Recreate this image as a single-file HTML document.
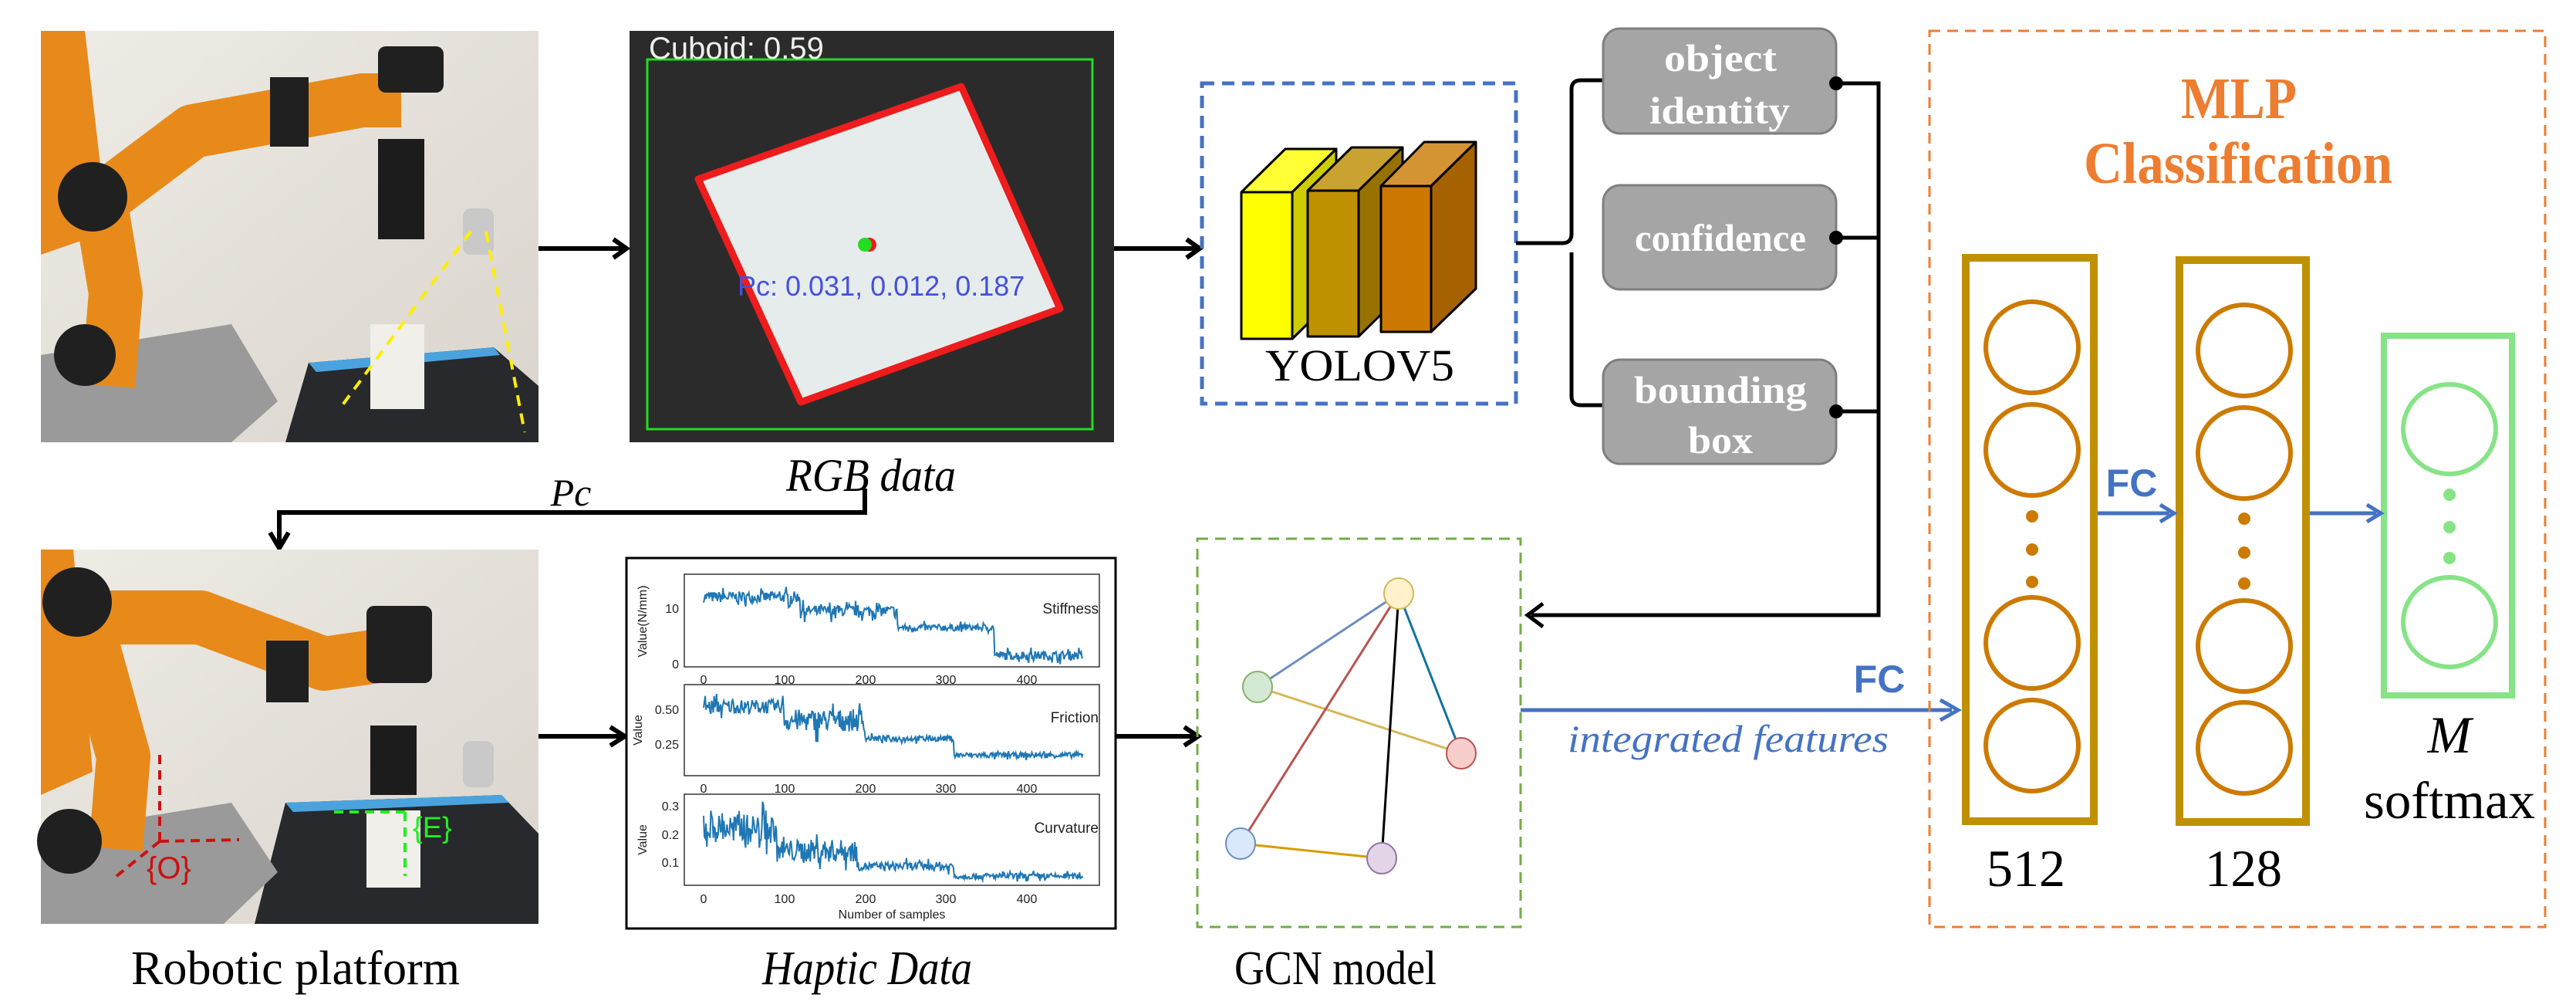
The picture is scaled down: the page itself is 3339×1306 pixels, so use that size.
<!DOCTYPE html>
<html><head><meta charset="utf-8"><style>
html,body{margin:0;padding:0;background:#fff}
svg{display:block}
.serif{font-family:"Liberation Serif",serif}
.sans{font-family:"Liberation Sans",sans-serif}
</style></head><body>
<svg id="s" width="3339" height="1306" viewBox="0 0 3339 1306" xmlns="http://www.w3.org/2000/svg">
<defs>
<linearGradient id="wall" x1="0" y1="0" x2="1" y2="1"><stop offset="0" stop-color="#efece6"/><stop offset="1" stop-color="#d9d4cc"/></linearGradient>
</defs>

<!-- Photo 1 -->
<g>
<rect x="53" y="40" width="645" height="533" fill="url(#wall)"/>
<polygon points="53,40 110,40 140,300 53,330" fill="#e8891c"/>
<polygon points="400,470 640,450 698,500 698,573 370,573" fill="#28292c"/>
<polygon points="400,470 640,450 648,460 410,482" fill="#4aa3df"/>
<polygon points="53,460 300,420 360,520 300,573 53,573" fill="#9a9a9a"/>
<rect x="480" y="420" width="70" height="110" fill="#f0efe9"/>
<path d="M140,500 L150,380 L130,260 L250,170 L470,130 L520,130" stroke="#e88a1a" stroke-width="70" fill="none" stroke-linejoin="round"/>
<circle cx="120" cy="255" r="45" fill="#202020"/>
<circle cx="110" cy="460" r="40" fill="#202020"/>
<rect x="490" y="60" width="85" height="60" rx="10" fill="#202020"/>
<rect x="490" y="180" width="60" height="130" fill="#1c1c1c"/>
<rect x="350" y="100" width="50" height="90" fill="#202020"/>
<rect x="600" y="270" width="40" height="60" rx="10" fill="#c9c9c9"/>
<path d="M610,300 L440,530 M630,300 L680,560" stroke="#ffee00" stroke-width="4" stroke-dasharray="14,10" fill="none"/>
</g>

<!-- RGB image -->
<g>
<rect x="816" y="40" width="628" height="533" fill="#2b2b2b"/>
<rect x="839" y="77" width="577" height="479" fill="none" stroke="#22dd22" stroke-width="3"/>
<polygon points="905,232 1246,112 1374,400 1038,521" fill="#e6ecec" stroke="#ee1c1c" stroke-width="9" stroke-linejoin="round"/>
<circle cx="1127" cy="317" r="9" fill="#ee1c1c"/>
<circle cx="1121" cy="317" r="9" fill="#22dd22"/>
<text x="841" y="76" class="sans" font-size="40" fill="#eee">Cuboid: 0.59</text>
<text x="956" y="383" class="sans" font-size="36" fill="#4450dd">Pc: 0.031, 0.012, 0.187</text>
</g>

<!-- arrows -->
<g stroke="#000" stroke-width="6" fill="none">
<path d="M698,322 L810,322"/><path d="M795,310 L812,322 L795,334"/>
<path d="M1444,322 L1552,322"/><path d="M1538,310 L1555,322 L1538,334"/>
<path d="M1121,633 L1121,664 L362,664 L362,705"/><path d="M350,690 L362,710 L374,690"/>
<path d="M698,954 L806,954"/><path d="M791,942 L810,954 L791,966"/>
<path d="M1446,954 L1550,954"/><path d="M1535,942 L1553,954 L1535,966"/>
</g>
<text x="1019" y="636" textLength="220" lengthAdjust="spacingAndGlyphs" class="serif" font-style="italic" font-size="60">RGB data</text>
<text x="740" y="655" text-anchor="middle" class="serif" font-style="italic" font-size="50">Pc</text>

<!-- YOLO -->
<rect x="1558" y="108" width="407" height="415" fill="none" stroke="#4472c4" stroke-width="5" stroke-dasharray="16,10"/>
<g stroke="#000" stroke-width="3" stroke-linejoin="round">
<polygon points="1609,249 1666,193 1732,193 1675,249" fill="#ffff33"/>
<polygon points="1675,249 1732,193 1732,383 1675,439" fill="#cccc00"/>
<rect x="1609" y="249" width="66" height="190" fill="#ffff00"/>
<polygon points="1695,247 1752,191 1818,191 1761,247" fill="#c9a232"/>
<polygon points="1761,247 1818,191 1818,380 1761,436" fill="#987200"/>
<rect x="1695" y="247" width="66" height="189" fill="#bf9000"/>
<polygon points="1790,241 1846,184 1913,184 1855,241" fill="#d49434"/>
<polygon points="1855,241 1913,184 1913,374 1855,430" fill="#a66200"/>
<rect x="1790" y="241" width="65" height="189" fill="#cc7700"/>
</g>
<text x="1640" y="493" textLength="245" lengthAdjust="spacingAndGlyphs" class="serif" font-size="58">YOLOV5</text>

<!-- bracket -->
<path d="M1965,315 L2025,315 Q2037,315 2037,303 L2037,116 Q2037,104 2049,104 L2078,104 M2037,327 L2037,513 Q2037,525 2049,525 L2078,525" stroke="#000" stroke-width="5" fill="none"/>

<!-- gray boxes -->
<g fill="#a5a5a5" stroke="#7f7f7f" stroke-width="3">
<rect x="2078" y="37" width="302" height="136" rx="22"/>
<rect x="2078" y="240" width="302" height="135" rx="22"/>
<rect x="2078" y="466" width="302" height="135" rx="22"/>
</g>
<g class="serif" font-weight="bold" fill="#fff" font-size="50">
<text x="2157" y="92" textLength="146" lengthAdjust="spacingAndGlyphs">object</text>
<text x="2138" y="160" textLength="182" lengthAdjust="spacingAndGlyphs">identity</text>
<text x="2119" y="325" textLength="222" lengthAdjust="spacingAndGlyphs">confidence</text>
<text x="2118" y="522" textLength="224" lengthAdjust="spacingAndGlyphs">bounding</text>
<text x="2188" y="587" textLength="84" lengthAdjust="spacingAndGlyphs">box</text>
</g>
<g stroke="#000" stroke-width="5" fill="none">
<path d="M2380,108 L2435,108 L2435,797 L1985,797"/>
<path d="M2380,308 L2435,308 M2380,533 L2435,533"/>
<path d="M2000,782 L1980,797 L2000,812"/>
</g>
<g fill="#000"><circle cx="2380" cy="108" r="9"/><circle cx="2380" cy="308" r="9"/><circle cx="2380" cy="533" r="9"/></g>

<!-- Photo 2 -->
<g>
<rect x="53" y="712" width="645" height="485" fill="url(#wall)"/>
<polygon points="53,712 95,712 120,1000 53,1030" fill="#e8891c"/>
<polygon points="370,1040 650,1030 698,1080 698,1197 330,1197" fill="#28292c"/>
<polygon points="370,1040 650,1030 660,1040 380,1052" fill="#4aa3df"/>
<polygon points="53,1080 300,1040 360,1130 290,1197 53,1197" fill="#9a9a9a"/>
<rect x="475" y="1050" width="70" height="100" fill="#f0efe9"/>
<path d="M150,1100 L160,980 L110,800 L260,800 L420,860 L490,850" stroke="#e88a1a" stroke-width="70" fill="none" stroke-linejoin="round"/>
<circle cx="100" cy="780" r="45" fill="#202020"/>
<circle cx="90" cy="1090" r="42" fill="#202020"/>
<rect x="475" y="785" width="85" height="100" rx="10" fill="#202020"/>
<rect x="480" y="940" width="60" height="90" fill="#1c1c1c"/>
<rect x="345" y="830" width="55" height="80" fill="#202020"/>
<rect x="600" y="960" width="40" height="60" rx="10" fill="#c9c9c9"/>
<g stroke="#cc1111" stroke-width="4" stroke-dasharray="12,8" fill="none"><path d="M207,1090 L207,975 M207,1090 L310,1088 M207,1090 L145,1140"/></g>
<text x="190" y="1138" class="sans" font-size="40" fill="#cc1111">{O}</text>
<g stroke="#22ee22" stroke-width="4" stroke-dasharray="12,8" fill="none"><path d="M525,1052 L425,1052 M525,1052 L525,1135"/></g>
<text x="535" y="1085" class="sans" font-size="38" fill="#22ee22">{E}</text>
</g>
<text x="170" y="1275" textLength="426" lengthAdjust="spacingAndGlyphs" class="serif" font-size="62">Robotic platform</text>

<!-- Haptic -->
<rect x="812" y="723" width="634" height="480" fill="#fff" stroke="#000" stroke-width="3"/>
<g fill="none" stroke="#333" stroke-width="1.5">
<rect x="887" y="744" width="538" height="120"/>
<rect x="887" y="887" width="538" height="118"/>
<rect x="887" y="1029" width="538" height="118"/>
</g>
<g id="plots"></g>
<g class="sans" font-size="16" fill="#222">
<text x="1424" y="795" text-anchor="end" font-size="19">Stiffness</text>
<text x="1424" y="936" text-anchor="end" font-size="19">Friction</text>
<text x="1424" y="1079" text-anchor="end" font-size="19">Curvature</text>
<text x="880" y="794" text-anchor="end">10</text><text x="880" y="866" text-anchor="end">0</text>
<text x="880" y="925" text-anchor="end">0.50</text><text x="880" y="970" text-anchor="end">0.25</text>
<text x="880" y="1050" text-anchor="end">0.3</text><text x="880" y="1087" text-anchor="end">0.2</text><text x="880" y="1123" text-anchor="end">0.1</text>
<g text-anchor="middle">
<text x="912" y="886">0</text><text x="1017" y="886">100</text><text x="1122" y="886">200</text><text x="1226" y="886">300</text><text x="1331" y="886">400</text>
<text x="912" y="1027">0</text><text x="1017" y="1027">100</text><text x="1122" y="1027">200</text><text x="1226" y="1027">300</text><text x="1331" y="1027">400</text>
<text x="912" y="1170">0</text><text x="1017" y="1170">100</text><text x="1122" y="1170">200</text><text x="1226" y="1170">300</text><text x="1331" y="1170">400</text>
<text x="1156" y="1190">Number of samples</text>
</g>
<text transform="translate(838,805) rotate(-90)" text-anchor="middle">Value(N/mm)</text>
<text transform="translate(832,946) rotate(-90)" text-anchor="middle">Value</text>
<text transform="translate(838,1088) rotate(-90)" text-anchor="middle">Value</text>
</g>
<text x="988" y="1275" textLength="272" lengthAdjust="spacingAndGlyphs" class="serif" font-style="italic" font-size="62">Haptic Data</text>

<!-- GCN -->
<rect x="1552" y="698" width="419" height="503" fill="none" stroke="#70ad47" stroke-width="3" stroke-dasharray="14,9"/>
<g stroke-width="3">
<line x1="1630" y1="890" x2="1813" y2="769" stroke="#6c8ebf"/>
<line x1="1630" y1="890" x2="1894" y2="976" stroke="#d6b656"/>
<line x1="1608" y1="1093" x2="1813" y2="769" stroke="#b85450"/>
<line x1="1791" y1="1112" x2="1813" y2="769" stroke="#000"/>
<line x1="1894" y1="976" x2="1813" y2="769" stroke="#10739e"/>
<line x1="1608" y1="1093" x2="1791" y2="1112" stroke="#d79b00"/>
</g>
<g stroke-width="2">
<ellipse cx="1813" cy="769" rx="19" ry="20" fill="#fff2cc" stroke="#d6b656"/>
<ellipse cx="1630" cy="890" rx="19" ry="20" fill="#d5e8d4" stroke="#82b366"/>
<ellipse cx="1894" cy="976" rx="19" ry="20" fill="#f8cecc" stroke="#b85450"/>
<ellipse cx="1608" cy="1093" rx="19" ry="20" fill="#dae8fc" stroke="#6c8ebf"/>
<ellipse cx="1791" cy="1112" rx="19" ry="20" fill="#e1d5e7" stroke="#9673a6"/>
</g>
<text x="1600" y="1275" textLength="262" lengthAdjust="spacingAndGlyphs" class="serif" font-size="62">GCN model</text>

<!-- integrated features -->
<path d="M1971,920 L2530,920" stroke="#4472c4" stroke-width="5"/>
<path d="M2515,907 L2538,920 L2515,933" stroke="#4472c4" stroke-width="5" fill="none"/>
<text x="2436" y="897" text-anchor="middle" class="sans" font-weight="bold" font-size="50" fill="#4472c4">FC</text>
<text x="2032" y="974" textLength="416" lengthAdjust="spacingAndGlyphs" class="serif" font-style="italic" font-size="50" fill="#4472c4">integrated features</text>

<!-- MLP -->
<rect x="2501" y="40" width="798" height="1161" fill="none" stroke="#ed7d31" stroke-width="3" stroke-dasharray="14,9"/>
<g class="serif" font-weight="bold" fill="#ed7d31" font-size="76">
<text x="2827" y="153" textLength="150" lengthAdjust="spacingAndGlyphs">MLP</text>
<text x="2701" y="237" textLength="400" lengthAdjust="spacingAndGlyphs">Classification</text>
</g>
<g fill="none">
<rect x="2548" y="334" width="166" height="730" stroke="#bf9000" stroke-width="10"/>
<rect x="2825" y="337" width="164" height="728" stroke="#bf9000" stroke-width="10"/>
<rect x="3090" y="435" width="166" height="466" stroke="#86e386" stroke-width="8"/>
<g stroke="#cc7a00" stroke-width="6">
<ellipse cx="2634" cy="450" rx="60" ry="59"/><ellipse cx="2634" cy="583" rx="60" ry="59"/>
<ellipse cx="2634" cy="833" rx="60" ry="59"/><ellipse cx="2634" cy="966" rx="60" ry="59"/>
<ellipse cx="2909" cy="454" rx="60" ry="59"/><ellipse cx="2909" cy="587" rx="60" ry="59"/>
<ellipse cx="2909" cy="837" rx="60" ry="59"/><ellipse cx="2909" cy="969" rx="60" ry="59"/>
</g>
<g stroke="#86e386" stroke-width="6">
<ellipse cx="3175" cy="556" rx="60" ry="58"/><ellipse cx="3175" cy="806" rx="60" ry="58"/>
</g>
</g>
<g fill="#cc7a00">
<circle cx="2634" cy="669" r="8"/><circle cx="2634" cy="712" r="8"/><circle cx="2634" cy="754" r="8"/>
<circle cx="2909" cy="672" r="8"/><circle cx="2909" cy="716" r="8"/><circle cx="2909" cy="756" r="8"/>
</g>
<g fill="#86e386"><circle cx="3175" cy="641" r="8"/><circle cx="3175" cy="683" r="8"/><circle cx="3175" cy="723" r="8"/></g>
<g stroke="#4472c4" stroke-width="5" fill="none">
<path d="M2719,665 L2812,665"/><path d="M2800,654 L2818,665 L2800,676"/>
<path d="M2994,665 L3080,665"/><path d="M3068,654 L3086,665 L3068,676"/>
</g>
<text x="2763" y="643" text-anchor="middle" class="sans" font-weight="bold" font-size="50" fill="#4472c4">FC</text>
<g class="serif" font-size="68">
<text x="2575" y="1148" textLength="102" lengthAdjust="spacingAndGlyphs">512</text>
<text x="2858" y="1148" textLength="100" lengthAdjust="spacingAndGlyphs">128</text>
<text x="3175" y="975" text-anchor="middle" font-style="italic">M</text>
<text x="3064" y="1060" textLength="222" lengthAdjust="spacingAndGlyphs">softmax</text>
</g>
</svg>
<script>
(function(){
var seed=7;function r(){seed=(seed*16807)%2147483647;return seed/2147483647;}
var g=document.getElementById('plots');
function plot(segs,y0,ppu,base,amp){
 var pts=[];
 for(var i=0;i<470;i++){
  var v=0;for(var k=0;k<segs.length;k++){if(i>=segs[k][0])v=segs[k][1];}
  var a=amp;for(var k=0;k<segs.length;k++){if(i>=segs[k][0]&&segs[k][2]!==undefined)a=segs[k][2];}
  v+= (r()-0.5)*2*a*(r()<0.15?2:1);
  pts.push((912+i*1.048).toFixed(1)+','+(y0-(v-base)*ppu).toFixed(1));
 }
 var p=document.createElementNS('http://www.w3.org/2000/svg','polyline');
 p.setAttribute('points',pts.join(' '));p.setAttribute('fill','none');
 p.setAttribute('stroke','#1f77b4');p.setAttribute('stroke-width','2');g.appendChild(p);
}
plot([[0,12,1],[120,9.5,1],[240,6.5,0.6],[360,1.5,0.8]],860,7.2,0,1);
plot([[0,0.52,0.05],[100,0.42,0.08],[200,0.29,0.02],[310,0.17,0.02]],964,180,0.25,0.05);
plot([[0,0.22,0.05],[90,0.14,0.04],[190,0.085,0.015],[310,0.05,0.01]],1117,365,0.1,0.03);
})();
</script>
</body></html>
